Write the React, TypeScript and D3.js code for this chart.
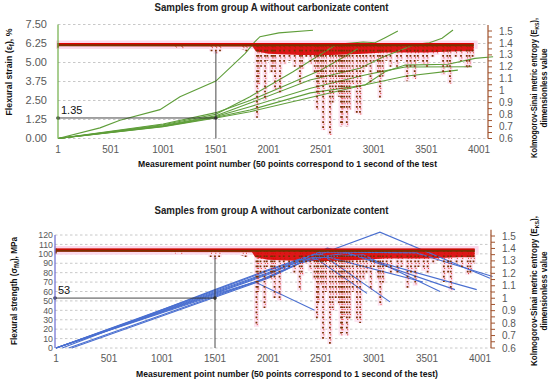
import React from "react";
import * as d3 from "d3";

// ---------- DATA ----------
const X_TICKS = [1, 501, 1001, 1501, 2001, 2501, 3001, 3501, 4001];
const STRAIN_TICKS = [0, 1.25, 2.5, 3.75, 5, 6.25, 7.5];
const STRENGTH_TICKS = [0, 10, 20, 30, 40, 50, 60, 70, 80, 90, 100, 110, 120];
const ENTROPY_TICKS = [0.6, 0.7, 0.8, 0.9, 1, 1.1, 1.2, 1.3, 1.4, 1.5];

const TITLE = "Samples from group A without carbonizate content";
const X_TITLE_TOP = "Measurement point number (50 points correspond to 1 second of the test";
const X_TITLE_BOTTOM = "Measurement point number (50 points correspond to 1 second of the test)";

// Flexural strain curves (x = measurement point, y = %)
const strain1 = [[1, 0], [400, 0.7], [590, 1.2], [970, 1.9], [1160, 2.75], [1501, 3.78], [1780, 5.6], [1870, 6.35], [1920, 6.7], [2100, 6.95], [2424, 7.12]];
const strain2 = [[1, 0], [1000, 0.9], [1501, 1.6], [1825, 2.75], [2234, 4.39], [2459, 5.38], [2650, 6.2], [2900, 6.35], [3013, 6.3], [3100, 6.6], [3230, 7.07]];
const strain3 = [[1, 0], [1000, 0.85], [1501, 1.5], [1825, 2.33], [2395, 3.85], [2870, 4.62], [3100, 5.4], [3400, 6.2], [3530, 6.3], [3650, 6.6], [3754, 7.14]];
const strain4 = [[1, 0], [1000, 0.82], [1501, 1.45], [1825, 2.09], [2400, 3.3], [2918, 4.18], [3108, 4.45], [3300, 4.7], [3935, 4.72]];
const strain5 = [[1, 0], [1000, 0.8], [1501, 1.4], [1825, 1.87], [2400, 3.0], [2918, 3.52], [3108, 4.39], [3300, 4.83], [3707, 4.88], [3963, 5.27], [4135, 5.38]];
const strain6 = [[1, 0], [1000, 0.78], [1501, 1.35], [1825, 1.76], [2400, 2.7], [2900, 3.5], [3300, 4.1], [3800, 4.5]];
const strain7 = [[1, 0], [1000, 0.95], [1501, 1.7], [1825, 2.5], [2200, 3.6], [2500, 4.5], [2700, 5.3], [2850, 5.9]];
const strainCurves = [strain1, strain2, strain3, strain4, strain5, strain6, strain7];

// Flexural strength curves (x = measurement point, y = MPa)
const strength1 = [[1, 0], [1501, 56], [1880, 70], [2440, 40]];
const strength2 = [[1, 0], [1501, 57], [1900, 71], [2290, 90], [2600, 104], [3057, 123], [4095, 74]];
const strength3 = [[1, 0], [1501, 60], [2001, 80], [2450, 100], [2560, 106], [2640, 104], [3970, 62]];
const strength4 = [[120, 0], [1501, 55], [2001, 75], [2400, 95], [2750, 101], [3765, 62]];
const strength5 = [[1, 0], [1501, 58], [2001, 78], [2350, 95], [2900, 99], [3624, 60]];
const strength6 = [[150, 0], [1501, 54], [2001, 74], [2300, 90], [2550, 97], [3463, 70]];
const strength7 = [[1, 0], [1501, 61], [2001, 82], [2400, 98], [2500, 100], [3152, 49]];
const strength8 = [[1, 0], [1501, 59], [2001, 79], [2300, 92], [2440, 96], [2935, 58]];
const strength9 = [[60, 0], [1501, 62], [2001, 83], [2500, 102], [3400, 101], [4120, 76]];
const strengthCurves = [strength1, strength2, strength3, strength4, strength5, strength6, strength7, strength8, strength9];

// Kolmogorov-Sinai entropy: baseline level, dense band lower edge and dips (x, min value)
const ENTROPY_BASE = 1.385;
const entropyBandX = [1, 1000, 1850, 1880, 2000, 2300, 2600, 2900, 3100, 3500, 3800, 3950];
const entropyBandLow = [1.375, 1.372, 1.37, 1.33, 1.31, 1.3, 1.3, 1.31, 1.32, 1.32, 1.33, 1.33];
const entropyDips = [
  [1120, 1.36], [1180, 1.355], [1460, 1.33], [1501, 1.31], [1540, 1.33], [1760, 1.34], [1790, 1.33],
  [1892, 0.77], [1905, 1.05], [1930, 1.2], [1968, 0.92], [1990, 1.25], [2030, 1.15], [2044, 1.2],
  [2063, 1.0], [2110, 0.98], [2150, 1.22], [2200, 1.25], [2250, 1.2], [2300, 1.06], [2320, 1.18],
  [2360, 1.28], [2400, 1.22], [2440, 1.15], [2462, 0.84], [2475, 0.96], [2500, 1.1], [2520, 0.67],
  [2545, 1.05], [2585, 0.63], [2610, 0.9], [2640, 1.0], [2670, 0.95], [2690, 0.7], [2700, 0.72],
  [2720, 0.85], [2745, 0.7], [2770, 0.84], [2800, 1.05], [2840, 0.81], [2870, 0.8], [2900, 1.15],
  [2930, 1.2], [2970, 1.07], [3000, 1.25], [3040, 1.15], [3060, 0.94], [3085, 1.12], [3120, 1.25],
  [3160, 1.2], [3222, 1.2], [3260, 1.25], [3317, 1.08], [3350, 1.2], [3390, 1.1], [3420, 1.25],
  [3470, 1.22], [3507, 1.2], [3560, 1.28], [3600, 1.3], [3660, 1.13], [3700, 1.2], [3725, 1.06],
  [3780, 1.28], [3830, 1.25], [3885, 1.19], [3910, 1.2], [3940, 1.28],
];
const ENTROPY_END = 3950;

const MARK_X = 1501;
const MARK_STRAIN = 1.35;
const MARK_STRENGTH = 53;
const MARK_ENTROPY = 1.33;

// ---------- DRAWING ----------
const FONT = "'Liberation Sans', Arial, sans-serif";
const TICK_COLOR = "#595959";
const BROWN = "#7a3000";
const RED = "#e00000";

type PanelProps = {
  title: string; titleY: number;
  xTitle: string; xTitleY: number; xTitleLen: number; xLabelY: number;
  yTitle: React.ReactNode; yTitleX: number; yTitleY: number; yTitleLen: number;
  rTitleY: number; rLen1: number; rLen2: number;
  xRange: [number, number]; rightAxisX: number;
  leftDomain: [number, number]; leftRange: [number, number];
  rightRange: [number, number];
  leftTicks: number[]; leftFmt: (v: number) => string; leftLabelX: number; leftFont: number;
  curves: number[][][]; curveColor: string; leftAxisColor: string; leftAxisX: number;
  markValue: number; markLabel: string; markLabelX: number; markLabelY: number;
};

function Panel(p: PanelProps) {
  const xs = d3.scaleLinear().domain([1, 4001]).range(p.xRange);
  const ys = d3.scaleLinear().domain(p.leftDomain).range(p.leftRange);
  const es = d3.scaleLinear().domain([0.6, 1.5]).range(p.rightRange);
  const line = d3.line<number[]>().x((d) => xs(d[0])).y((d) => ys(d[1]));
  const bandPts = entropyBandX.map((x, i) => [x, entropyBandLow[i]]);
  const area = d3.area<number[]>().x((d) => xs(d[0])).y0(es(ENTROPY_BASE + 0.008)).y1((d) => es(d[1]));
  const minorTicks = d3.range(0.6, 1.5001, 0.05);
  const yTop = p.leftRange[1];
  const yBot = p.leftRange[0];

  return (
    <g>
      <text x={271.5} y={p.titleY} textAnchor="middle" fontFamily={FONT} fontWeight="bold" fontSize={10}
        textLength={234} lengthAdjust="spacingAndGlyphs" fill="#222">{p.title}</text>

      {/* gridlines */}
      {p.leftTicks.map((t) => (
        <line key={"g" + t} x1={p.leftAxisX} x2={p.rightAxisX} y1={ys(t)} y2={ys(t)}
          stroke="#c8c8c8" strokeWidth={1} strokeDasharray="2.5 2.5" />
      ))}

      {/* pink halo around the entropy band and dips */}
      <rect x={xs(1) - 2} width={xs(ENTROPY_END) - xs(1) + 6} y={es(1.42)} height={es(1.35) - es(1.42)} fill="#fbd9ec" />
      {entropyDips.map((d, i) => (
        <line key={"h" + i} x1={xs(d[0])} x2={xs(d[0])} y1={es(ENTROPY_BASE)} y2={es(d[1])} stroke="#fce3f0" strokeWidth={5} />
      ))}

      {/* entropy dense band */}
      <path d={area(bandPts) || ""} fill="#d80000" opacity={0.9} />

      {/* curves */}
      {p.curves.map((c, i) => (
        <path key={"c" + i} d={line(c) || ""} fill="none" stroke={p.curveColor} strokeWidth={1.1} />
      ))}

      {/* entropy dips */}
      {entropyDips.map((d, i) => (
        <g key={"d" + i}>
          <line x1={xs(d[0]) + 0.8} x2={xs(d[0]) + 0.8} y1={es(ENTROPY_BASE)} y2={es(d[1])} stroke={RED}
            strokeWidth={0.9} strokeDasharray="0.9 4.2" strokeDashoffset={2.6} />
          <line x1={xs(d[0])} x2={xs(d[0])} y1={es(ENTROPY_BASE)} y2={es(d[1])} stroke={BROWN}
            strokeWidth={1.8} strokeDasharray="1.7 3.4" />
        </g>
      ))}

      {/* entropy baseline */}
      <line x1={xs(1)} x2={xs(ENTROPY_END)} y1={es(ENTROPY_BASE)} y2={es(ENTROPY_BASE)} stroke={BROWN} strokeWidth={3} />
      <line x1={xs(1)} x2={xs(ENTROPY_END)} y1={es(ENTROPY_BASE + 0.01)} y2={es(ENTROPY_BASE + 0.01)} stroke={RED} strokeWidth={1.2} />
      <line x1={xs(1)} x2={xs(1)} y1={es(1.4)} y2={es(1.36)} stroke={BROWN} strokeWidth={1.5} />

      {/* annotation */}
      <line x1={p.leftAxisX} x2={xs(MARK_X)} y1={ys(p.markValue)} y2={ys(p.markValue)} stroke="#333" strokeWidth={0.9} />
      <line x1={xs(MARK_X)} x2={xs(MARK_X)} y1={yBot} y2={es(MARK_ENTROPY)} stroke="#333" strokeWidth={0.9} />
      <circle cx={p.leftAxisX} cy={ys(p.markValue)} r={1.8} fill="#333" />
      <circle cx={xs(MARK_X)} cy={ys(p.markValue)} r={1.8} fill="#333" />
      <text x={p.markLabelX} y={p.markLabelY} fontFamily={FONT} fontSize={11} fill="#111">{p.markLabel}</text>

      {/* left axis */}
      <line x1={p.leftAxisX} x2={p.leftAxisX} y1={yTop} y2={yBot} stroke={p.leftAxisColor} strokeWidth={1.2} />
      {p.leftTicks.map((t) => (
        <text key={"l" + t} x={p.leftLabelX} y={ys(t) + p.leftFont * 0.36} textAnchor="end" fontFamily={FONT}
          fontSize={p.leftFont} fill={TICK_COLOR}>{p.leftFmt(t)}</text>
      ))}

      {/* right axis */}
      <line x1={p.rightAxisX} x2={p.rightAxisX} y1={es(1.55)} y2={es(0.6)} stroke="#a0522d" strokeWidth={1.2} />
      {minorTicks.map((t, i) => (
        <line key={"rt" + i} x1={p.rightAxisX} x2={p.rightAxisX + 4} y1={es(t)} y2={es(t)} stroke="#a0522d" strokeWidth={1} />
      ))}
      {ENTROPY_TICKS.map((t) => (
        <text key={"r" + t} x={p.rightAxisX + 11} y={es(t) + 3.6} fontFamily={FONT} fontSize={10} fill={TICK_COLOR}>
          {String(+t.toFixed(1))}
        </text>
      ))}

      {/* x axis labels */}
      {X_TICKS.map((t) => (
        <text key={"x" + t} x={xs(t)} y={p.xLabelY} textAnchor="middle" fontFamily={FONT} fontSize={10} fill={TICK_COLOR}>{t}</text>
      ))}
      <text x={p.xRange[0] + (p.xTitleLen / 2) + 80} y={p.xTitleY} textAnchor="middle" fontFamily={FONT} fontWeight="bold"
        fontSize={9.5} textLength={p.xTitleLen} lengthAdjust="spacingAndGlyphs" fill="#111">{p.xTitle}</text>

      {/* y titles */}
      <text transform={`translate(${p.yTitleX},${p.yTitleY}) rotate(-90)`} textAnchor="middle" fontFamily={FONT}
        fontWeight="bold" fontSize={9} textLength={p.yTitleLen} lengthAdjust="spacingAndGlyphs" fill="#111">{p.yTitle}</text>
      <text transform={`translate(537,${p.rTitleY}) rotate(-90)`} textAnchor="middle" fontFamily={FONT}
        fontWeight="bold" fontSize={9} textLength={p.rLen1} lengthAdjust="spacingAndGlyphs" fill="#111">
        Kolmogorov-Sinai metric entropy (E<tspan fontSize={6} dy={1.5}>KS</tspan><tspan dy={-1.5}>),</tspan>
      </text>
      <text transform={`translate(547,${p.rTitleY}) rotate(-90)`} textAnchor="middle" fontFamily={FONT}
        fontWeight="bold" fontSize={9} textLength={p.rLen2} lengthAdjust="spacingAndGlyphs" fill="#111">dimensionless value</text>
    </g>
  );
}

export default function App() {
  return (
    <svg width={550} height={384} style={{ position: "absolute", left: 0, top: 0, background: "#fff" }}>
      <rect width={550} height={384} fill="#fff" />
      <Panel
        title={TITLE} titleY={11}
        xTitle={X_TITLE_TOP} xTitleY={167} xTitleLen={299} xLabelY={153}
        yTitle={<>Flexural strain (ε<tspan fontSize={6.5} dy={1.5}>f</tspan><tspan dy={-1.5}>), %</tspan></>}
        yTitleX={12} yTitleY={72} yTitleLen={87}
        rTitleY={88} rLen1={140} rLen2={79}
        xRange={[58, 479]} rightAxisX={488}
        leftDomain={[0, 7.5]} leftRange={[138.5, 24.5]} rightRange={[138.5, 31]}
        leftTicks={STRAIN_TICKS} leftFmt={(v) => v.toFixed(2)} leftLabelX={47} leftFont={11}
        curves={strainCurves} curveColor="#5f9e3a" leftAxisColor="#70ad47" leftAxisX={58}
        markValue={MARK_STRAIN} markLabel={String(MARK_STRAIN)} markLabelX={61} markLabelY={114}
      />
      <Panel
        title={TITLE} titleY={214}
        xTitle={X_TITLE_BOTTOM} xTitleY={377} xTitleLen={302} xLabelY={362}
        yTitle={<>Flexural strength (σ<tspan fontSize={6.5} dy={1.5}>fM</tspan><tspan dy={-1.5}>), MPa</tspan></>}
        yTitleX={17} yTitleY={291} yTitleLen={108}
        rTitleY={291} rLen1={150} rLen2={79}
        xRange={[56, 480]} rightAxisX={491}
        leftDomain={[0, 120]} leftRange={[348, 235]} rightRange={[348, 236]}
        leftTicks={STRENGTH_TICKS} leftFmt={(v) => String(v)} leftLabelX={53} leftFont={8.8}
        curves={strengthCurves} curveColor="#4a6fd0" leftAxisColor="#6b6bd0" leftAxisX={55}
        markValue={MARK_STRENGTH} markLabel={String(MARK_STRENGTH)} markLabelX={58} markLabelY={294}
      />
    </svg>
  );
}
